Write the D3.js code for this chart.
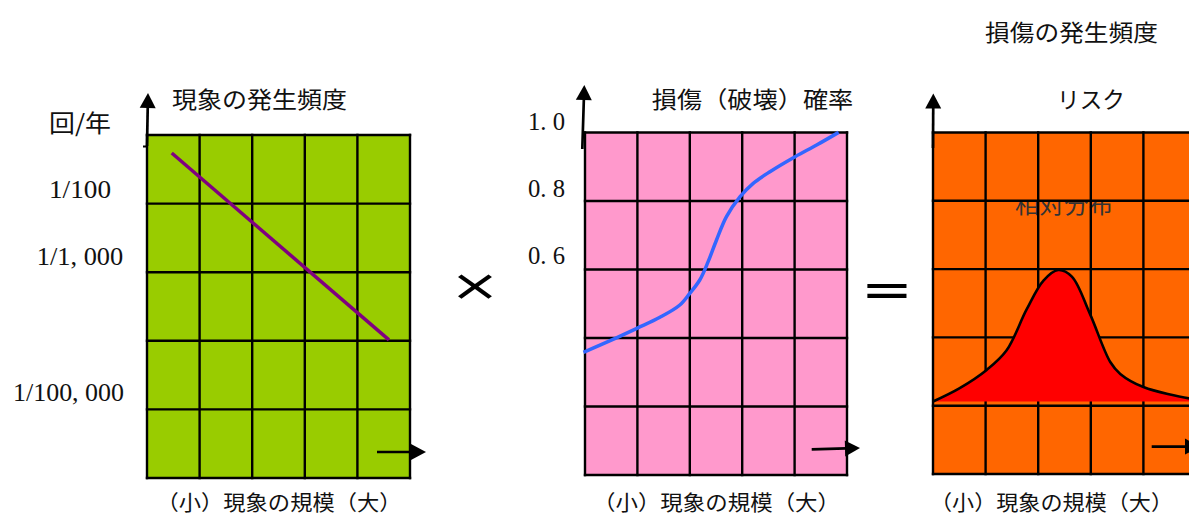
<!DOCTYPE html>
<html>
<head>
<meta charset="utf-8">
<script src="https://cdn.jsdelivr.net/npm/d3@7"></script>
<style>
    body { margin: 0; background: #fff; }
    svg { display: block; }
</style>
</head>
<body>
<div id="chart"></div>
<script>
// grid of every panel (5 x 5 cells)
var gridLines = [0, 1, 2, 3, 4, 5];

// panel 1 : frequency of the phenomenon (log scale)
var freqTicks = [1e-1, 1e-2, 1e-3, 1e-5];
var freqTickLabels = ["回/年", "1/100", "1/1, 000", "1/100, 000"];
var freqX = [0.47, 4.6];
var freqY = [0.034, 0.000059];

// panel 2 : damage (failure) probability
var probTicks = [1.0, 0.8, 0.6];
var probTickLabels = ["1. 0", "0. 8", "0. 6"];
var probX = [-0.03, 0.48, 0.99, 1.43, 1.81, 2.0, 2.19, 2.35, 2.51, 2.70, 2.96, 3.21, 3.53, 4.01, 4.42, 4.84];
var probY = [0.308, 0.343, 0.380, 0.413, 0.450, 0.485, 0.525, 0.580, 0.645, 0.715, 0.775, 0.815, 0.850, 0.895, 0.930, 0.968];

// panel 3 : risk (relative distribution)
var riskX = [0.0, 0.5, 1.02, 1.40, 1.78, 2.10, 2.38, 2.64, 2.98, 3.37, 3.56, 4.0, 4.87, 5.0];
var riskY = [0.0, 0.10, 0.24, 0.39, 0.70, 0.92, 1.0, 0.95, 0.67, 0.30, 0.21, 0.11, 0.024, 0.02];

// texts
var panelTitles = ["現象の発生頻度", "損傷（破壊）確率", "リスク"];
var xLabel = "（小）現象の規模（大）";
var riskTopTitle = "損傷の発生頻度";
var riskNote = "相対分布";
var operators = ["×", "="];

var width = 1189, height = 516;
var cjk = "'Noto Sans CJK JP', sans-serif";
var serif = "'Liberation Serif', 'Noto Sans CJK JP', serif";

var panels = [
    {left: 147, top: 135, w: 263, h: 343, fill: "#99cc00",
        up: [0, 11, 1, -42], right: [230, 317, 279, 317]},
    {left: 585, top: 132.5, w: 262, h: 342.5, fill: "#ff99cc",
        up: [-2.7, 16.5, -0.7, -47.5], right: [226.7, 316.8, 275, 315.5]},
    {left: 933, top: 132.5, w: 263, h: 341.5, fill: "#ff6600",
        up: [0, 15.5, 0.3, -39], right: [218.7, 314.2, 267, 314]}
];

var svg = d3.select("#chart")
        .append("svg")
        .attr("width", width)
        .attr("height", height);

var defs = svg.append("defs");

function addText(g, str, x, y, size, len, family) {
    return g.append("text")
            .attr("x", x)
            .attr("y", y)
            .attr("text-anchor", "middle")
            .attr("dominant-baseline", "central")
            .attr("font-family", family || cjk)
            .attr("font-size", size)
            .attr("textLength", len)
            .attr("lengthAdjust", "spacingAndGlyphs")
            .attr("fill", "#111")
            .text(str);
}

// straight arrow with a filled head at (x2, y2)
function arrow(g, x1, y1, x2, y2) {
    var a = Math.atan2(y2 - y1, x2 - x1), len = 15, half = 8;
    var bx = x2 - len * Math.cos(a), by = y2 - len * Math.sin(a);
    g.append("line")
            .attr("x1", x1).attr("y1", y1)
            .attr("x2", bx + Math.cos(a)).attr("y2", by + Math.sin(a))
            .attr("stroke", "#000")
            .attr("stroke-width", 2.7);
    g.append("path")
            .attr("d", "M" + x2 + "," + y2 +
                    "L" + (bx - half * Math.sin(a)) + "," + (by + half * Math.cos(a)) +
                    "L" + (bx + half * Math.sin(a)) + "," + (by - half * Math.cos(a)) + "Z")
            .attr("fill", "#000");
}

// draw background of one panel and keep its scales
function drawPanel(p, i) {
    var g = svg.append("g").attr("class", "panel" + i);
    var x = d3.scaleLinear().domain([0, 5]).range([p.left, p.left + p.w]);
    var y = d3.scaleLinear().domain([0, 5]).range([p.top + p.h, p.top]);

    g.append("rect")
            .attr("x", p.left)
            .attr("y", p.top)
            .attr("width", p.w)
            .attr("height", p.h)
            .attr("fill", p.fill);

    p.g = g;
    p.x = x;
    p.y = y;
    return p;
}

function drawGrid(p) {
    var grid = p.g.append("g").attr("class", "grid");
    grid.selectAll(".v")
            .data(gridLines)
            .enter().append("line")
            .attr("x1", function (d) { return p.x(d); })
            .attr("x2", function (d) { return p.x(d); })
            .attr("y1", p.y(0) + 1.2)
            .attr("y2", p.y(5) - 1.2)
            .attr("stroke", "#000")
            .attr("stroke-width", 2.4);
    grid.selectAll(".h")
            .data(gridLines)
            .enter().append("line")
            .attr("y1", function (d) { return p.y(d); })
            .attr("y2", function (d) { return p.y(d); })
            .attr("x1", p.x(0) - 1.2)
            .attr("x2", p.x(5) + 1.2)
            .attr("stroke", "#000")
            .attr("stroke-width", 2.4);
}

function drawArrows(p) {
    arrow(svg, p.left + p.up[0], p.top + p.up[1], p.left + p.up[2], p.top + p.up[3]);
    arrow(svg, p.left + p.right[0], p.top + p.right[1], p.left + p.right[2], p.top + p.right[3]);
}

panels.forEach(drawPanel);

// ---- panel 1 : frequency
var p1 = panels[0];
drawGrid(p1);
var yFreq = d3.scaleLog().domain([1e-2, 1e-5]).range([189, 392]);
p1.g.append("path")
        .datum(d3.zip(freqX, freqY))
        .attr("d", d3.line()
                .x(function (d) { return p1.x(d[0]); })
                .y(function (d) { return yFreq(d[1]); }))
        .attr("fill", "none")
        .attr("stroke", "#800080")
        .attr("stroke-width", 3.5);

freqTicks.forEach(function (t, i) {
    var s = freqTickLabels[i];
    var isCjk = i === 0;
    var lens = [62, 62, 86.5, 111];
    addText(svg, s, i === 3 ? 68.5 : 80, yFreq(t), isCjk ? 24 : 26, lens[i], isCjk ? cjk : serif);
});
// small hook at the foot of the vertical arrow
svg.append("line")
        .attr("x1", p1.left - 4).attr("y1", p1.top + 11.5)
        .attr("x2", p1.left).attr("y2", p1.top + 11.5)
        .attr("stroke", "#000").attr("stroke-width", 2);

// ---- panel 2 : probability
var p2 = panels[1];
drawGrid(p2);
var yProb = d3.scaleLinear().domain([0.6, 1.0]).range([255, 121.7]);
p2.g.append("path")
        .datum(d3.zip(probX, probY))
        .attr("d", d3.line()
                .curve(d3.curveCatmullRom)
                .x(function (d) { return p2.x(d[0]); })
                .y(function (d) { return yProb(d[1]); }))
        .attr("fill", "none")
        .attr("stroke", "#3366ff")
        .attr("stroke-width", 3.5);

probTicks.forEach(function (t, i) {
    addText(svg, probTickLabels[i], 546.5, yProb(t), 25, 37, serif);
});

// ---- panel 3 : risk
var p3 = panels[2];
defs.append("clipPath")
        .attr("id", "noteClip")
        .append("rect")
        .attr("x", p3.left).attr("y", p3.y(4) + 0.5)
        .attr("width", p3.w).attr("height", p3.h);
addText(p3.g, riskNote, 1064, 203, 23, 98)
        .attr("fill", "#333")
        .attr("clip-path", "url(#noteClip)");
drawGrid(p3);

var yRisk = d3.scaleLinear().domain([0, 1]).range([401.5, 270]);
var riskData = d3.zip(riskX, riskY);
p3.g.append("path")
        .datum(riskData)
        .attr("d", d3.area()
                .curve(d3.curveCatmullRom)
                .x(function (d) { return p3.x(d[0]); })
                .y0(yRisk(0))
                .y1(function (d) { return yRisk(d[1]); }))
        .attr("fill", "#ff0000");
p3.g.append("path")
        .datum(riskData)
        .attr("d", d3.line()
                .curve(d3.curveCatmullRom)
                .x(function (d) { return p3.x(d[0]); })
                .y(function (d) { return yRisk(d[1]); }))
        .attr("fill", "none")
        .attr("stroke", "#000")
        .attr("stroke-width", 2.6);

panels.forEach(drawArrows);

// ---- titles and axis labels
addText(svg, panelTitles[0], 259.5, 97.5, 23, 175);
addText(svg, panelTitles[1], 752.5, 98, 23, 201.5);
addText(svg, panelTitles[2], 1091, 97.5, 23, 68);
addText(svg, riskTopTitle, 1071.5, 31, 23, 173);
addText(svg, xLabel, 279, 500.5, 21, 245);
addText(svg, xLabel, 716.5, 500.5, 21, 247);
addText(svg, xLabel, 1051.5, 500.5, 21, 243);

// ---- operators between the panels
svg.append("text")
        .attr("transform", "translate(475,285) scale(1.4,1)")
        .attr("text-anchor", "middle")
        .attr("dominant-baseline", "central")
        .attr("font-family", "'DejaVu Sans'")
        .attr("font-size", 43)
        .text(operators[0]);
svg.append("text")
        .attr("transform", "translate(887,289) scale(1.25,1)")
        .attr("text-anchor", "middle")
        .attr("dominant-baseline", "central")
        .attr("font-family", "'DejaVu Sans'")
        .attr("font-size", 50)
        .text(operators[1]);
</script>
</body>
</html>
